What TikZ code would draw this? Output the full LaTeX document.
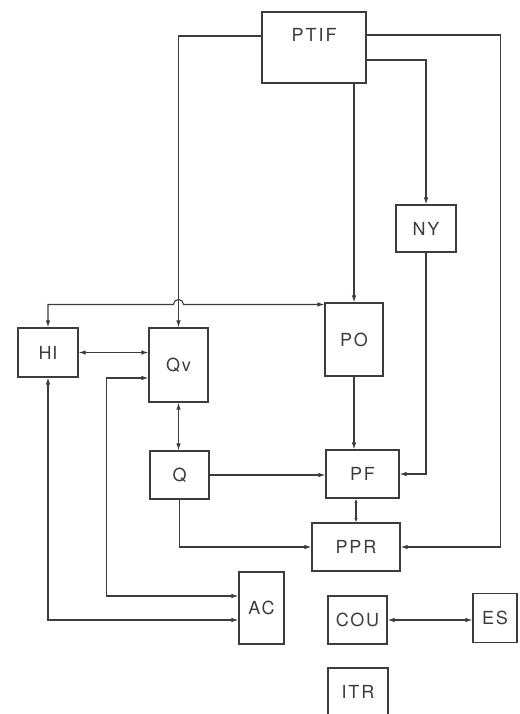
\documentclass[tikz,border=0pt]{standalone}
\usepackage{fontspec}
\setmainfont{TeX Gyre Heros}[LetterSpace=10]
\usetikzlibrary{arrows.meta,calc}
\definecolor{ink}{RGB}{60,60,60}
\begin{document}
\begin{tikzpicture}[x=1pt, y=-1pt, >={Latex[length=7pt,width=4.5pt]}, line width=1.1pt, ink,
  box/.style={draw, inner sep=0pt, font=\fontsize{18}{21}\selectfont}]
\useasboundingbox (0,0) rectangle (519,714);
% Boxes
\node[box, minimum width=104pt, minimum height=71pt, text depth=26pt] (PTIF) at (314,47.5) {P\kern2pt T\kern2pt I\kern2pt F};
\node[box, minimum width=60pt, minimum height=47pt] (NY) at (426,228.5) {NY};
\node[box, minimum width=58pt, minimum height=73pt] (PO) at (354,339.5) {PO};
\node[box, minimum width=60pt, minimum height=49pt] (HI) at (48,352.5) {H\kern1pt I};
\node[box, minimum width=59pt, minimum height=74pt] (Qv) at (178.5,365) {Qv};
\node[box, minimum width=59pt, minimum height=48pt] (Q) at (179.5,475) {Q};
\node[box, minimum width=73pt, minimum height=48pt] (PF) at (362.5,474) {PF};
\node[box, minimum width=88pt, minimum height=48pt] (PPR) at (356,547) {PPR};
\node[box, minimum width=45pt, minimum height=72pt] (AC) at (261.5,608) {AC};
\node[box, minimum width=59pt, minimum height=48pt] (COU) at (357.5,620) {COU};
\node[box, minimum width=44pt, minimum height=49pt] (ES) at (495,618) {ES};
\node[box, minimum width=60pt, minimum height=48pt] (ITR) at (358,692) {ITR};
% From PTIF
\draw[->] ([yshift=11.5pt]PTIF.west) -| (Qv.north);
\draw[->] (PO.north |- PTIF.south) -- (PO.north);
\draw[->] ([yshift=-12.5pt]PTIF.east) -| (NY.north);
\draw[->] ([yshift=12.5pt]PTIF.east) -- ++(134pt,0) |- (PPR.east);
% HI -- PO with hop
\draw[<->] (HI.north) |- ($(Qv.north |- PO.north west)+(-5pt,-2pt)$)
  arc[start angle=180, end angle=0, radius=5pt] -- ([yshift=-2pt]PO.north west);
% Left side
\draw[<->] (HI.east) -- (HI.east -| Qv.west);
\draw[<->] ([yshift=-13pt]Qv.west) -- ++(-42pt,0) |- ([yshift=12pt]AC.west);
\draw[<->] (HI.south) |- ([yshift=-12pt]AC.west);
\draw[<->] (Qv.south) -- (Qv.south |- Q.north);
% To PF and PPR
\draw[->] (Q.east) -- (Q.east -| PF.west);
\draw[->] (Q.south) |- (PPR.west);
\draw[->] (PO.south) -- (PO.south |- PF.north);
\draw[->] (NY.south) |- (PF.east);
\draw[<->, >={Latex[length=4.5pt,width=3.5pt]}] (PPR.north |- PF.south) -- (PPR.north);
% Bottom
\draw[<->] (COU.east) -- (COU.east -| ES.west);
\end{tikzpicture}
\end{document}
